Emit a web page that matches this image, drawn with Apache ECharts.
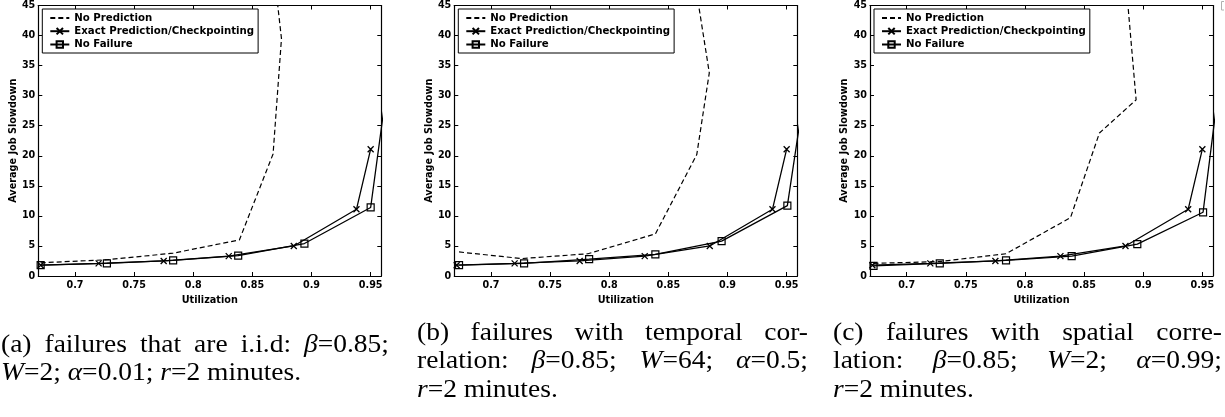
<!DOCTYPE html>
<html><head><meta charset="utf-8">
<script src="https://cdn.jsdelivr.net/npm/echarts@6/dist/echarts.min.js"></script>
<style>html,body{margin:0;padding:0;background:#fff}#c{width:1225px;height:417px}</style>
</head><body><div id="c"></div>
<script>
// ---------- data ----------
const xTicks = [0.7, 0.75, 0.8, 0.85, 0.9, 0.95];
const xTickLabels = ['0.7', '0.75', '0.8', '0.85', '0.9', '0.95'];
const seriesNames = ['No Prediction', 'Exact Prediction/Checkpointing', 'No Failure'];

// Exact Prediction/Checkpointing (same in all panels)
const exactX = [0.671, 0.720, 0.775, 0.830, 0.885, 0.938, 0.950];
const exactY = [1.8, 2.1, 2.5, 3.3, 5.0, 11.1, 21.1];

// (a) i.i.d.
const noPredA_X = [0.671, 0.727, 0.783, 0.839, 0.8675, 0.8746, 0.8686];
const noPredA_Y = [2.2, 2.7, 3.8, 6.0, 20.3, 39.5, 50];
const noFailA_X = [0.671, 0.727, 0.783, 0.838, 0.894, 0.950, 0.973];
const noFailA_Y = [1.8, 2.1, 2.6, 3.4, 5.4, 11.4, 45];

// (b) temporal correlation
const noPredB_X = [0.673, 0.726, 0.782, 0.839, 0.874, 0.8846, 0.8716];
const noPredB_Y = [4.0, 2.9, 3.7, 7.0, 20.2, 33.8, 50];
const noFailB_X = [0.673, 0.728, 0.783, 0.839, 0.895, 0.9506, 0.976];
const noFailB_Y = [1.8, 2.1, 2.8, 3.6, 5.8, 11.7, 45];

// (c) spatial correlation
const noPredC_X = [0.672, 0.728, 0.784, 0.8385, 0.863, 0.894, 0.8849];
const noPredC_Y = [2.1, 2.4, 3.7, 9.7, 23.8, 29.3, 50];
const noFailC_X = [0.672, 0.728, 0.784, 0.8395, 0.895, 0.9506, 0.9725];
const noFailC_Y = [1.7, 2.1, 2.6, 3.3, 5.3, 10.6, 45];

// captions
const captionA = ['(a) failures that are i.i.d: {i|β}=0.85;', '{i|W}=2; {i|α}=0.01; {i|r}=2 minutes.'];
const captionB = ['(b) failures with temporal cor-', 'relation: {i|β}=0.85; {i|W}=64; {i|α}=0.5;', '{i|r}=2 minutes.'];
const captionC = ['(c) failures with spatial corre-', 'lation: {i|β}=0.85; {i|W}=2; {i|α}=0.99;', '{i|r}=2 minutes.'];

// ---------- layout ----------
const SANS = 'DejaVu Sans';
const SERIF = 'Liberation Serif';
const X_MIN = 0.669, X_MAX = 0.959;
const gridLefts = [38.3, 454.3, 870];
const GRID_TOP = 5.5, GRID_W = 343, GRID_H = 270.5;

const panels = [
  {np: [noPredA_X, noPredA_Y], nf: [noFailA_X, noFailA_Y], cap: captionA, capX: 1, capW: 388, capY: [345, 373]},
  {np: [noPredB_X, noPredB_Y], nf: [noFailB_X, noFailB_Y], cap: captionB, capX: 417, capW: 391, capY: [333, 361.5, 390]},
  {np: [noPredC_X, noPredC_Y], nf: [noFailC_X, noFailC_Y], cap: captionC, capX: 833, capW: 389, capY: [333, 361.5, 390]}
];

const zip = (xs, ys) => xs.map((x, i) => [x, ys[i]]);
const xFmt = v => { const k = xTicks.findIndex(t => Math.abs(t - v) < 1e-6); return k < 0 ? '' : xTickLabels[k]; };
const axisLine = {show: true, onZero: false, lineStyle: {color: '#000', width: 1.2}};
const tickStyle = {lineStyle: {color: '#000', width: 1}};
const labelFont = {color: '#000', fontFamily: SANS, fontWeight: 'bold', fontSize: 9.6};
const nameFont = {color: '#000', fontFamily: SANS, fontWeight: 'bold', fontSize: 9.7};

const grids = [], xAxes = [], yAxes = [], series = [], legends = [], graphics = [];

panels.forEach((p, i) => {
  grids.push({left: gridLefts[i], top: GRID_TOP, width: GRID_W, height: GRID_H, containLabel: false, outerBoundsMode: 'none'});
  xAxes.push({
    type: 'value', gridIndex: i, position: 'bottom', min: X_MIN, max: X_MAX,
    axisLine, splitLine: {show: false},
    axisTick: Object.assign({inside: true, length: 4, customValues: xTicks}, tickStyle),
    axisLabel: Object.assign({margin: 4.5, formatter: xFmt, customValues: xTicks}, labelFont),
    name: 'Utilization', nameLocation: 'middle', nameGap: 13, nameTextStyle: nameFont
  });
  xAxes.push({
    type: 'value', gridIndex: i, position: 'top', min: X_MIN, max: X_MAX,
    axisLine, splitLine: {show: false},
    axisTick: Object.assign({inside: true, length: 4, customValues: xTicks}, tickStyle),
    axisLabel: {show: false, customValues: xTicks}
  });
  yAxes.push({
    type: 'value', gridIndex: i, position: 'left', min: 0, max: 45, interval: 5,
    axisLine, splitLine: {show: false},
    axisTick: Object.assign({inside: true, length: 4}, tickStyle),
    axisLabel: Object.assign({margin: 3}, labelFont),
    name: 'Average Job Slowdown', nameLocation: 'middle', nameGap: 20, nameTextStyle: nameFont
  });
  yAxes.push({
    type: 'value', gridIndex: i, position: 'right', min: 0, max: 45, interval: 5,
    axisLine, splitLine: {show: false},
    axisTick: Object.assign({inside: true, length: 4}, tickStyle),
    axisLabel: {show: false}
  });

  const common = {type: 'line', xAxisIndex: 2 * i, yAxisIndex: 2 * i, clip: true, silent: true, animation: false};
  series.push(Object.assign({}, common, {
    name: seriesNames[0], data: zip(p.np[0], p.np[1]), symbol: 'none',
    lineStyle: {color: '#000', width: 1.2, type: [5, 3]}, itemStyle: {color: '#000'}
  }));
  series.push(Object.assign({}, common, {
    name: seriesNames[1], data: zip(exactX, exactY),
    symbol: 'path://M0,0L10,10M10,0L0,10', symbolSize: 6, showAllSymbol: true,
    lineStyle: {color: '#000', width: 1.3}, itemStyle: {color: '#000', borderColor: '#000', borderWidth: 1.3}
  }));
  series.push(Object.assign({}, common, {
    name: seriesNames[2], data: zip(p.nf[0], p.nf[1]),
    symbol: 'rect', symbolSize: 7, showAllSymbol: true,
    lineStyle: {color: '#000', width: 1.3}, itemStyle: {color: 'rgba(0,0,0,0)', borderColor: '#000', borderWidth: 1.2}
  }));

  legends.push({
    orient: 'vertical', left: gridLefts[i] + 4, top: 9, selectedMode: false,
    data: [{name: seriesNames[0], itemStyle: {opacity: 0}}, seriesNames[1], seriesNames[2]],
    itemWidth: 19, itemHeight: 8, itemGap: 2.3, padding: [3.4, 4, 3, 7],
    borderColor: '#000', borderWidth: 1, backgroundColor: '#fff', borderRadius: 0,
    textStyle: {color: '#000', fontFamily: SANS, fontWeight: 'bold', fontSize: 10.2, lineHeight: 11}
  });
});

// ---------- captions (justified text) ----------
const CAP_SIZE = 25, CAP_SX = 1.1;
const cv = document.createElement('canvas').getContext('2d');
function segs(word) {
  const out = []; const re = /\{i\|([^}]*)\}/g; let last = 0, m;
  while ((m = re.exec(word))) {
    if (m.index > last) out.push([word.slice(last, m.index), false]);
    out.push([m[1], true]); last = re.lastIndex;
  }
  if (last < word.length) out.push([word.slice(last), false]);
  return out;
}
function measure(word) {
  return CAP_SX * segs(word).reduce((s, [t, it]) => {
    cv.font = (it ? 'italic ' : '') + CAP_SIZE + 'px "' + SERIF + '"';
    return s + cv.measureText(t).width;
  }, 0);
}
cv.font = CAP_SIZE + 'px "' + SERIF + '"';
const SPACE_W = CAP_SX * cv.measureText(' ').width;
panels.forEach(p => {
  p.cap.forEach((line, li) => {
    const words = line.split(' ');
    const widths = words.map(measure);
    const total = widths.reduce((a, b) => a + b, 0);
    const isLast = li === p.cap.length - 1;
    const gap = (!isLast && words.length > 1) ? (p.capW - total) / (words.length - 1) : SPACE_W;
    let x = p.capX;
    words.forEach((w, wi) => {
      graphics.push({
        type: 'text', x: x, y: p.capY[li], scaleX: CAP_SX, silent: true,
        style: {
          text: w, fill: '#000', fontFamily: SERIF, fontSize: CAP_SIZE, align: 'left', verticalAlign: 'middle',
          rich: {i: {fontStyle: 'italic', fontFamily: SERIF, fontSize: CAP_SIZE, fill: '#000'}}
        }
      });
      x += widths[wi] + gap;
    });
  });
});
// small scan artifact at top-right corner
graphics.push({type: 'polyline', silent: true, shape: {points: [[1224, 1.5], [1221.5, 1.5], [1221.5, 10], [1224, 10]]},
  style: {stroke: '#b0b0b0', lineWidth: 1, fill: null}});

const chart = echarts.init(document.getElementById('c'), null, {renderer: 'canvas'});
chart.setOption({
  animation: false, backgroundColor: '#fff',
  grid: grids, xAxis: xAxes, yAxis: yAxes, series: series, legend: legends, graphic: graphics
});
</script></body></html>
